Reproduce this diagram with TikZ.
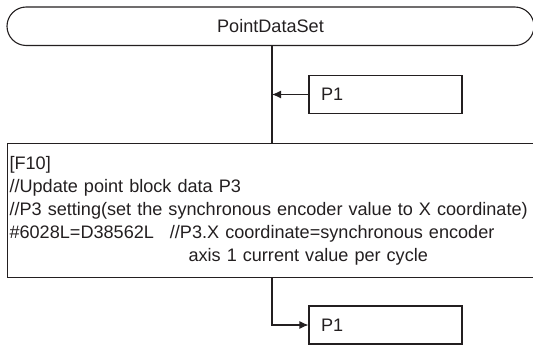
\documentclass[tikz,border=0pt]{standalone}
\usepackage{fontspec}
\setmainfont{Liberation Sans}
\usetikzlibrary{arrows.meta,shapes.misc}
\definecolor{ink}{HTML}{231F20}
\begin{document}
\begin{tikzpicture}[x=1pt,y=-1pt,
  line/.style={draw=ink,line width=1.1pt},
  txt/.style={text=ink,font=\fontsize{18.1}{23}\selectfont},
  term/.style={line, txt, rounded rectangle, minimum width=527pt, minimum height=38.5pt, inner sep=0pt},
  pbox/.style={line, txt, rectangle, minimum width=153pt, minimum height=38pt, text width=129pt, inner xsep=12pt, inner ysep=0pt, align=left},
  procbox/.style={line, txt, rectangle, minimum width=538pt, minimum height=134pt, text width=534pt, inner xsep=2pt, align=left},
  flow/.style={line, -{Latex[length=9pt,width=8pt]}}]
\useasboundingbox (0,0) rectangle (533,345);
\node[term] (start) at (270.5,26.25) {PointDataSet};
\node[pbox] (p1a) at (385.5,94.5) {P1};
\node[procbox, anchor=north west] (f10) at (7,143) {[F10]\\
//Update point block data P3\\
//P3 setting(set the synchronous encoder value to X coordinate)\\
\#6028L=D38562L\hspace{16pt}//P3.X coordinate=synchronous encoder\\
\hspace*{179pt}axis 1 current value per cycle};
\node[pbox] (p1b) at (385.5,325) {P1};
\coordinate (j1) at (272,94.5);
\coordinate (j2) at (272,325);
\draw[line] (start.south -| j1) -- (f10.north -| j1);
\draw[flow] (p1a.west) -- (j1);
\draw[flow] (f10.south -| j2) -- (j2) -- (p1b.west);
\end{tikzpicture}
\end{document}
